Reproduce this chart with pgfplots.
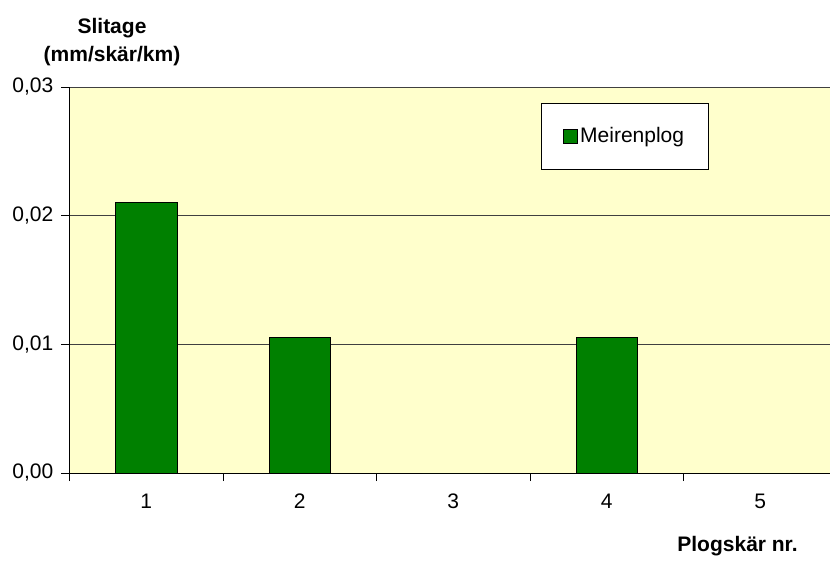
\documentclass[border=0pt]{standalone}
\usepackage{pgfplots}
\pgfplotsset{compat=1.18}
\usepackage{fontspec}
\setmainfont{Liberation Sans}
\definecolor{bargreen}{HTML}{008000}
\definecolor{bgyellow}{HTML}{FFFFCC}
\begin{document}
\fontsize{21}{25}\selectfont
\begin{tikzpicture}
\begin{axis}[
  name=ax,
  scale only axis,
  width=760.5pt, height=386pt,
  xmin=0.5, xmax=5.4544,
  ymin=0, ymax=0.03,
  axis x line*=bottom,
  axis y line*=left,
  axis line style={black, line width=0.8pt},
  axis background/.style={fill=bgyellow},
  ybar, bar width=61.5pt,
  xtick={1,2,3,4,5},
  minor xtick={0.5,1.5,2.5,3.5,4.5},
  major x tick style={draw=none},
  minor x tick style={draw=black, line width=0.8pt},
  minor tick length=8pt,
  xticklabel style={yshift=-6pt},
  ytick={0,0.01,0.02,0.03},
  xtick align=outside, ytick align=outside,
  major tick length=8pt,
  y tick style={draw=black, line width=0.8pt},
  ymajorgrids,
  grid style={black!75, line width=0.8pt},
  yticklabel style={/pgf/number format/fixed, /pgf/number format/fixed zerofill, /pgf/number format/precision=2, /pgf/number format/use comma, xshift=-1pt},
  scaled y ticks=false,
  /pgf/number format/assume math mode=true,
  ticklabel style={font=\fontsize{21}{25}\selectfont},
  legend style={at={(0.62,0.9585)}, anchor=north west, draw=black, line width=0.8pt, fill=white,
    inner xsep=22pt, inner ysep=22pt, font=\fontsize{21}{25}\selectfont, cells={anchor=west}},
  legend image code/.code={\draw[fill=bargreen, draw=black, line width=0.8pt] (0pt,-7pt) rectangle (14pt,7pt);},
  clip=false,
]
\addplot[fill=bargreen, draw=black, line width=0.9pt] coordinates {(1,0.021) (2,0.0105) (3,0) (4,0.0105) (5,0)};
\addlegendentry{Meirenplog}
\end{axis}
\node[align=center, font=\bfseries\fontsize{21}{28}\selectfont] at (42.5pt,431pt) {Slitage\\(mm/skär/km)};
\node[font=\bfseries\fontsize{21}{25}\selectfont] at (668pt,-73pt) {Plogskär nr.};
\pgfresetboundingbox
\path[use as bounding box] (-69.5pt,-90pt) rectangle (760.5pt,473pt);
\end{tikzpicture}
\end{document}
